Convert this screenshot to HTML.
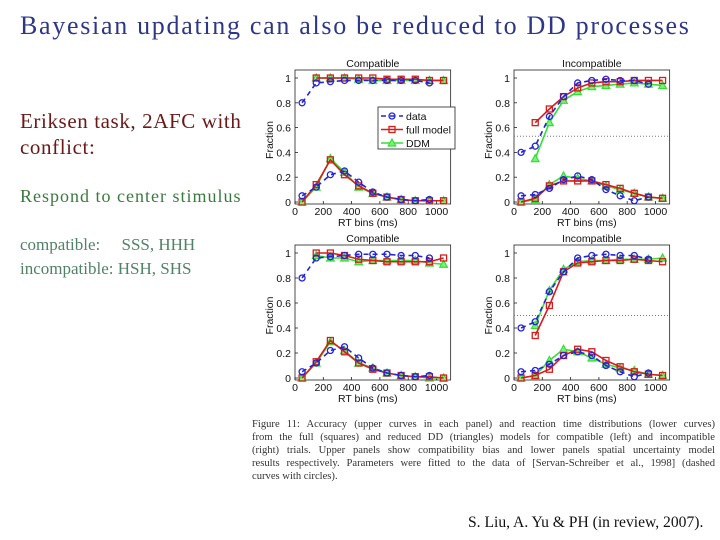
<!DOCTYPE html>
<html><head><meta charset="utf-8"><style>
body{margin:0;background:#fff;width:720px;height:540px;overflow:hidden;position:relative;font-family:"Liberation Serif",serif}
.t{position:absolute;white-space:nowrap}
.cap{position:absolute;left:252px;width:463px;font-size:10.6px;height:13px;line-height:13px;color:#333;text-align:justify;text-align-last:justify;white-space:nowrap}
</style></head><body>
<div class="t" style="left:20px;top:11px;font-size:26px;letter-spacing:1.7px;color:#2e3787">Bayesian updating can also be reduced to DD processes</div>
<div class="t" style="left:20px;top:108px;font-size:21px;letter-spacing:0.6px;line-height:26px;color:#6a1818">Eriksen task, 2AFC with<br>conflict:</div>
<div class="t" style="left:20px;top:186px;font-size:18px;letter-spacing:1px;color:#3b7a3e">Respond to center stimulus</div>
<div class="t" style="left:20px;top:233px;font-size:17px;line-height:24px;color:#4f8266">compatible:&nbsp;&nbsp;&nbsp;&nbsp; SSS, HHH<br>incompatible: HSH, SHS</div>
<div>
<div class="cap" style="top:418px">Figure 11: Accuracy (upper curves in each panel) and reaction time distributions (lower curves)</div>
<div class="cap" style="top:431px">from the full (squares) and reduced DD (triangles) models for compatible (left) and incompatible</div>
<div class="cap" style="top:444px">(right) trials. Upper panels show compatibility bias and lower panels spatial uncertainty model</div>
<div class="cap" style="top:457px">results respectively. Parameters were fitted to the data of [Servan-Schreiber et al., 1998] (dashed</div>
<div class="cap" style="top:470px;text-align-last:left">curves with circles).</div>
</div>
<div class="t" style="left:468px;top:514px;font-size:15.6px;color:#111">S. Liu, A. Yu &amp; PH (in review, 2007).</div>
<svg id="chart" width="720" height="540" style="position:absolute;left:0;top:0" font-family="Liberation Sans, sans-serif"></svg>
<script>
const binsData=[50,150,250,350,450,550,650,750,850,950];
const binsModel=[50,150,250,350,450,550,650,750,850,950,1050];
const binsModelAcc=[150,250,350,450,550,650,750,850,950,1050];
const xTicks=[0,200,400,600,800,1000];
const yTicks=[0,0.2,0.4,0.6,0.8,1];
const yTickLabels=["0","0.2","0.4","0.6","0.8","1"];
const titles=["Compatible","Incompatible","Compatible","Incompatible"];
const chanceLevel=[null,0.53,null,0.5];
const accData=[[0.8,0.96,0.97,0.98,0.98,0.98,0.98,0.98,0.98,0.96],[0.4,0.45,0.69,0.85,0.96,0.98,0.99,0.98,0.98,0.95],[0.8,0.96,0.97,0.98,0.99,0.99,0.99,0.98,0.98,0.96],[0.4,0.45,0.69,0.85,0.96,0.98,0.99,0.98,0.98,0.95]];
const accFull=[[1,1,1,1,1,0.99,0.99,0.99,0.98,0.98],[0.64,0.75,0.85,0.92,0.96,0.97,0.97,0.98,0.98,0.98],[1,1,0.98,0.95,0.94,0.93,0.93,0.93,0.93,0.96],[0.34,0.58,0.85,0.92,0.93,0.94,0.94,0.95,0.94,0.93]];
const accDDM=[[1,1,1,0.99,0.98,0.98,0.98,0.98,0.98,0.98],[0.35,0.64,0.82,0.89,0.93,0.94,0.95,0.96,0.95,0.94],[0.98,0.96,0.96,0.93,0.94,0.94,0.94,0.94,0.92,0.91],[0.42,0.7,0.87,0.93,0.94,0.94,0.95,0.95,0.95,0.96]];
const rtData=[[0.05,0.12,0.22,0.25,0.16,0.08,0.04,0.02,0.01,0.02],[0.05,0.06,0.11,0.18,0.21,0.18,0.1,0.05,0.01,0.04],[0.05,0.12,0.22,0.25,0.16,0.08,0.04,0.02,0.01,0.02],[0.05,0.06,0.11,0.18,0.21,0.18,0.1,0.05,0.01,0.04]];
const rtFull=[[0,0.14,0.34,0.22,0.13,0.07,0.04,0.02,0.01,0.01,0.01],[0,0.03,0.13,0.17,0.17,0.17,0.14,0.11,0.07,0.04,0.03],[0,0.13,0.3,0.21,0.12,0.07,0.04,0.02,0.01,0.01,0],[0,0.02,0.07,0.18,0.23,0.21,0.14,0.09,0.05,0.03,0.02]];
const rtDDM=[[0,0.12,0.35,0.24,0.12,0.07,0.04,0.02,0.01,0.01,0.01],[0,0.02,0.14,0.21,0.19,0.17,0.13,0.1,0.07,0.04,0.03],[0,0.12,0.29,0.22,0.12,0.08,0.04,0.02,0.01,0,0],[0,0.02,0.14,0.23,0.21,0.16,0.11,0.08,0.06,0.03,0.02]];
const legendLabels=["data","full model","DDM"];

const NS="http://www.w3.org/2000/svg";
const svg=document.getElementById('chart');
const panels=[{x0:295,y0:202,y1:78},{x0:514,y0:202,y1:78},{x0:295,y0:378,y1:253},{x0:514,y0:378,y1:253}];
const pxPerMs=0.1415, xMax=1100;
const BLUE="#2323d8",RED="#d81c1c",GREEN="#33e033";
function mk(tag,attrs,parent){const e=document.createElementNS(NS,tag);for(const k in attrs)e.setAttribute(k,attrs[k]);(parent||svg).appendChild(e);return e;}
function marker(g,type,x,y,color){
  let m;
  if(type==='o') m=mk('circle',{cx:x,cy:y,r:3,fill:'none',stroke:color,'stroke-width':1.3},g);
  else if(type==='s') m=mk('rect',{x:x-3,y:y-3,width:6,height:6,fill:'none',stroke:color,'stroke-width':1.3},g);
  else m=mk('polygon',{points:`${x},${y-4} ${x-3.8},${y+3} ${x+3.8},${y+3}`,fill:'#7cf07c',stroke:color,'stroke-width':1.2},g);
  
  
}
function series(g,xs,ys,sx,sy,color,type,dash,name){
  const pts=xs.map((v,i)=>sx(v)+','+sy(ys[i])).join(' ');
  const l=mk('polyline',{points:pts,fill:'none',stroke:color,'stroke-width':1.6},g);
  if(dash) l.setAttribute('stroke-dasharray','5,4');
  
  
  xs.forEach((v,i)=>marker(g,type,sx(v),sy(ys[i]),color));
}
panels.forEach((p,k)=>{
  const sx=v=>p.x0+v*pxPerMs, sy=v=>p.y0-(p.y0-p.y1)*v;
  const g=mk('g',{});
  
  
  const x1=sx(xMax), top=p.y1-8;
  const box=mk('rect',{x:p.x0,y:top,width:x1-p.x0,height:p.y0-top+2,fill:'none',stroke:'#222','stroke-width':0.8},g);
  
  
  xTicks.forEach(t=>{
    mk('line',{x1:sx(t),x2:sx(t),y1:p.y0+2,y2:p.y0-1,stroke:'#222','stroke-width':0.8},g);
    const tx=mk('text',{x:sx(t),y:p.y0+13,'font-size':10.5,'text-anchor':'middle',fill:'#111'},g);
    tx.textContent=t;
    
    
  });
  yTicks.forEach((t,i)=>{
    mk('line',{x1:p.x0,x2:p.x0+3,y1:sy(t),y2:sy(t),stroke:'#222','stroke-width':0.8},g);
    const ty=mk('text',{x:p.x0-4,y:sy(t)+4,'font-size':10.5,'text-anchor':'end',fill:'#111'},g);
    ty.textContent=yTickLabels[i];
    
    
  });
  const tt=mk('text',{x:(p.x0+x1)/2,y:top-3,'font-size':10.5,'text-anchor':'middle',fill:'#111'},g);
  tt.textContent=titles[k];
  
  
  const xl=mk('text',{x:(p.x0+x1)/2-5,y:p.y0+24,'font-size':10.5,'text-anchor':'middle',fill:'#111'},g);
  xl.textContent='RT bins (ms)';
  
  
  const yl=mk('text',{x:0,y:0,'font-size':10.5,'text-anchor':'middle',fill:'#111',transform:`translate(${p.x0-22},${sy(0.5)}) rotate(-90)`},g);
  yl.textContent='Fraction';
  
  
  if(chanceLevel[k]!==null){
    const d=mk('line',{x1:p.x0,x2:x1,y1:sy(chanceLevel[k]),y2:sy(chanceLevel[k]),stroke:'#777','stroke-width':1,'stroke-dasharray':'1,2'},g);
    
    
  }
  series(g,binsModelAcc,accDDM[k],sx,sy,GREEN,'t',false,'ddm-accuracy-line');
  series(g,binsModelAcc,accFull[k],sx,sy,RED,'s',false,'full-model-accuracy-line');
  series(g,binsData,accData[k],sx,sy,BLUE,'o',true,'data-accuracy-line');
  series(g,binsModel,rtDDM[k],sx,sy,GREEN,'t',false,'ddm-rt-line');
  series(g,binsModel,rtFull[k],sx,sy,RED,'s',false,'full-model-rt-line');
  series(g,binsData,rtData[k],sx,sy,BLUE,'o',true,'data-rt-line');
});
const lg=mk('g',{});


mk('rect',{x:378,y:107,width:77,height:42,fill:'#fff',stroke:'#222','stroke-width':0.8},lg);
const cols=[BLUE,RED,GREEN],types=['o','s','t'];
legendLabels.forEach((lab,i)=>{
  const y=116+i*13.5;
  const e=mk('g',{},lg);
  
  
  const l=mk('line',{x1:381,x2:403,y1:y,y2:y,stroke:cols[i],'stroke-width':1.6},e);
  if(i===0) l.setAttribute('stroke-dasharray','5,4');
  marker(e,types[i],392,y,cols[i]);
  const t=mk('text',{x:406,y:y+4,'font-size':10.5,fill:'#111'},e);
  t.textContent=lab;
});
</script>
</body></html>
